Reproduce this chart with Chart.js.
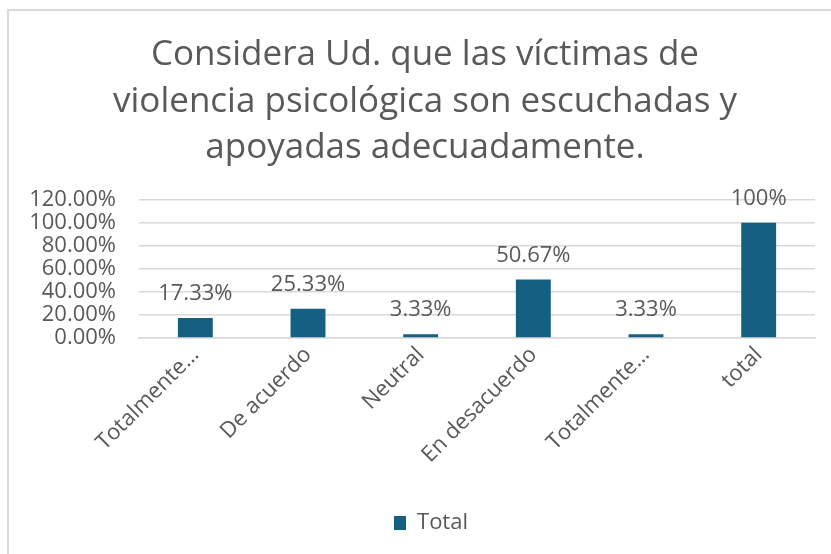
<!DOCTYPE html>
<html>
<head>
<meta charset="utf-8">
<script src="https://cdn.jsdelivr.net/npm/chart.js@4.4.1/dist/chart.umd.min.js"></script>
<style>
  html, body { margin: 0; padding: 0; background: #ffffff; }
  #wrap { position: absolute; left: 7px; top: 9px; width: 824px; height: 545px;
          border-left: 2px solid #d9d9d9; border-top: 2px solid #d9d9d9; box-sizing: border-box; }
  #c { display: block; }
</style>
</head>
<body>
<div id="wrap"><canvas id="c" width="822" height="543"></canvas></div>
<script>
const categories = ["Totalmente…", "De acuerdo", "Neutral", "En desacuerdo", "Totalmente…", "total"];
const seriesName = "Total";
const values = [17.33, 25.33, 3.33, 50.67, 3.33, 100];
const valueLabels = ["17.33%", "25.33%", "3.33%", "50.67%", "3.33%", "100%"];
const yTicks = [0, 20, 40, 60, 80, 100, 120];
const titleLines = ["Considera Ud. que las víctimas de", "violencia psicológica son escuchadas y", "apoyadas adecuadamente."];

const FONT = "'Open Sans', 'Liberation Sans', sans-serif";
const GRAY = "#595959";
const BAR = "#156082";

const dataLabelPlugin = {
  id: 'dataLabelPlugin',
  afterDatasetsDraw(chart) {
    const ctx = chart.ctx;
    const meta = chart.getDatasetMeta(0);
    ctx.save();
    ctx.font = "22px " + FONT;
    ctx.fillStyle = GRAY;
    ctx.textAlign = 'center';
    ctx.textBaseline = 'middle';
    meta.data.forEach((bar, i) => {
      ctx.fillText(valueLabels[i], bar.x, bar.y - 24);
    });
    ctx.restore();
  }
};

// Excel centres title and legend on the whole chart, not on the plot area
const shiftBlocksPlugin = {
  id: 'shiftBlocks',
  afterLayout(chart) {
    if (chart.titleBlock) { chart.titleBlock.left += 13; chart.titleBlock.right += 13; }
    if (chart.legend) { chart.legend.left += 19; chart.legend.right += 19; }
  }
};

new Chart(document.getElementById('c'), {
  type: 'bar',
  data: {
    labels: categories,
    datasets: [{
      label: seriesName,
      data: values,
      backgroundColor: BAR,
      borderWidth: 0,
      barPercentage: 0.31,
      categoryPercentage: 1.0
    }]
  },
  options: {
    responsive: false,
    animation: false,
    devicePixelRatio: 1,
    layout: { padding: { left: 0, right: 16, top: 0, bottom: 10 } },
    plugins: {
      title: {
        display: true,
        text: titleLines,
        color: GRAY,
        font: { family: FONT, size: 35, weight: 'normal', lineHeight: 1.33 },
        padding: { top: 21, bottom: 28 }
      },
      legend: {
        display: true,
        position: 'bottom',
        labels: {
          color: GRAY,
          font: { family: FONT, size: 22 },
          boxWidth: 12,
          boxHeight: 14,
          padding: 10
        }
      },
      tooltip: { enabled: false }
    },
    scales: {
      y: {
        min: 0,
        max: 120,
        afterBuildTicks(scale) { scale.ticks = yTicks.map(v => ({ value: v })); },
        afterFit(scale) { scale.width = 130; },
        ticks: {
          color: GRAY,
          font: { family: FONT, size: 22, lineHeight: 1.0 },
          padding: 23,
          autoSkip: false,
          callback: v => v.toFixed(2) + '%'
        },
        grid: { color: '#d9d9d9', lineWidth: 1.5, drawTicks: false },
        border: { display: false }
      },
      x: {
        afterFit(scale) { scale.height = 164; },
        ticks: {
          color: GRAY,
          font: { family: FONT, size: 22 },
          minRotation: 45,
          maxRotation: 45,
          autoSkip: false,
          padding: 4
        },
        grid: { display: false, drawTicks: false },
        border: { display: true, color: '#d9d9d9', width: 1.5 }
      }
    }
  },
  plugins: [dataLabelPlugin, shiftBlocksPlugin]
});
</script>
</body>
</html>
